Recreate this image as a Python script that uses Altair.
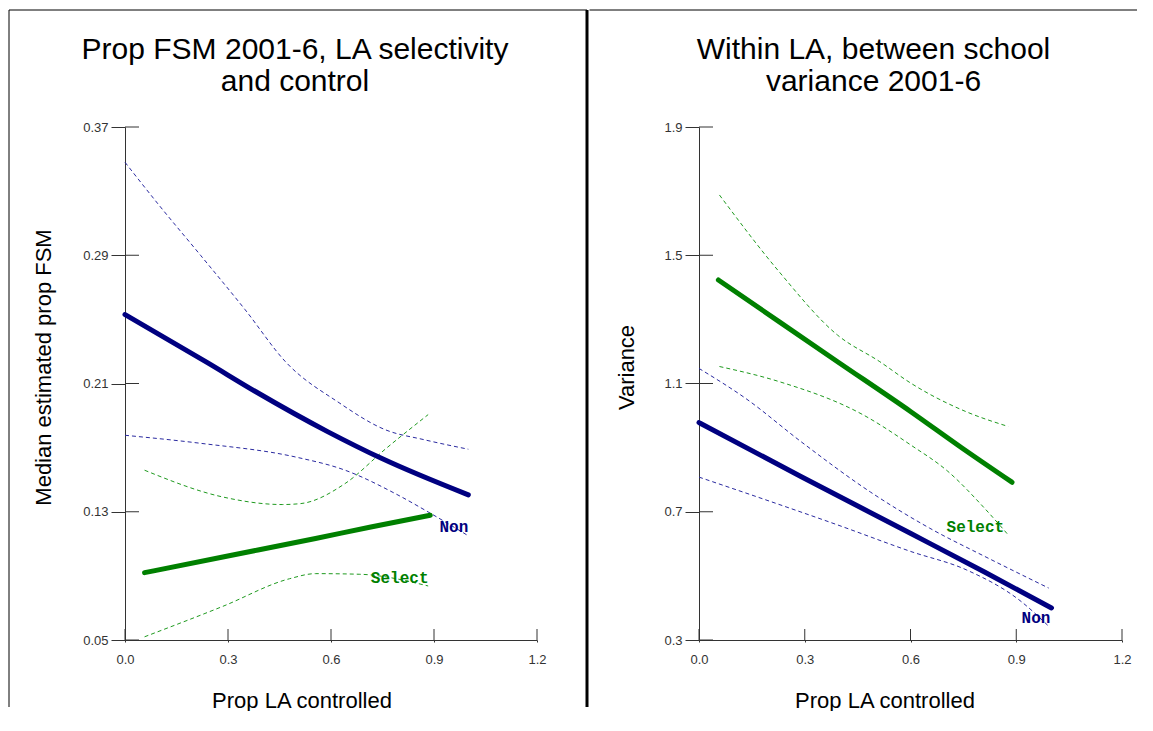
import altair as alt
import pandas as pd

# ---------------- text ----------------
LEFT_TITLE = ["Prop FSM 2001-6, LA selectivity", "and control"]
RIGHT_TITLE = ["Within LA, between school", "variance 2001-6"]
X_TITLE = "Prop LA controlled"
LEFT_Y_TITLE = "Median estimated prop FSM"
RIGHT_Y_TITLE = "Variance"
GROUPS = ["Non", "Select"]

X_TICKS = [0.0, 0.3, 0.6, 0.9, 1.2]
LEFT_Y_TICKS = [0.05, 0.13, 0.21, 0.29, 0.37]
RIGHT_Y_TICKS = [0.3, 0.7, 1.1, 1.5, 1.9]

# ---------------- left panel: median estimated prop FSM ----------------
FSM_NON_MEAN_X = [0.0, 0.24, 0.38, 0.59, 0.75, 1.0]
FSM_NON_MEAN_Y = [0.253, 0.223, 0.205, 0.180, 0.163, 0.1405]
FSM_NON_UP_X = [0.0, 0.10, 0.22, 0.35, 0.47, 0.62, 0.76, 0.87, 1.0]
FSM_NON_UP_Y = [0.348, 0.321, 0.290, 0.256, 0.223, 0.1985, 0.181, 0.175, 0.169]
FSM_NON_LO_X = [0.0, 0.22, 0.50, 0.64, 0.79, 0.89, 1.0]
FSM_NON_LO_Y = [0.1777, 0.1727, 0.164, 0.156, 0.141, 0.129, 0.115]
FSM_SEL_MEAN_X = [0.057, 0.285, 0.555, 0.716, 0.889]
FSM_SEL_MEAN_Y = [0.092, 0.1018, 0.1133, 0.1205, 0.1278]
FSM_SEL_UP_X = [0.057, 0.285, 0.458, 0.512, 0.641, 0.760, 0.883]
FSM_SEL_UP_Y = [0.1559, 0.1392, 0.1345, 0.1351, 0.1476, 0.1694, 0.1906]
FSM_SEL_LO_X = [0.057, 0.285, 0.479, 0.555, 0.684, 0.883]
FSM_SEL_LO_Y = [0.052, 0.071, 0.0882, 0.0914, 0.091, 0.0837]
FSM_LABEL_X = [0.958, 0.80]
FSM_LABEL_Y = [0.1205, 0.0887]

# ---------------- right panel: variance ----------------
VAR_NON_MEAN_X = [0.0, 0.289, 0.601, 0.81, 1.0]
VAR_NON_MEAN_Y = [0.978, 0.81, 0.632, 0.512, 0.40]
VAR_NON_UP_X = [0.0, 0.133, 0.289, 0.487, 0.654, 0.81, 0.992]
VAR_NON_UP_Y = [1.147, 1.053, 0.919, 0.761, 0.649, 0.561, 0.462]
VAR_NON_LO_X = [0.0, 0.216, 0.393, 0.601, 0.758, 0.914, 0.992]
VAR_NON_LO_Y = [0.808, 0.727, 0.659, 0.576, 0.519, 0.42, 0.343]
VAR_SEL_MEAN_X = [0.055, 0.227, 0.393, 0.601, 0.747, 0.888]
VAR_SEL_MEAN_Y = [1.423, 1.293, 1.168, 1.012, 0.898, 0.792]
VAR_SEL_UP_X = [0.058, 0.227, 0.393, 0.513, 0.601, 0.758, 0.877]
VAR_SEL_UP_Y = [1.688, 1.449, 1.251, 1.168, 1.101, 1.012, 0.966]
VAR_SEL_LO_X = [0.058, 0.227, 0.466, 0.601, 0.706, 0.81, 0.877]
VAR_SEL_LO_Y = [1.153, 1.106, 1.002, 0.908, 0.826, 0.711, 0.628]
VAR_LABEL_X = [0.956, 0.784]
VAR_LABEL_Y = [0.3685, 0.651]

# ---------------- styling ----------------
NAVY = "#000080"
GREEN = "#008000"
NAVY_CI = "#2a2aa0"
GREEN_CI = "#1f9a1f"
AXIS_COL = "#333333"
FONT = "Liberation Sans"
MONO = "Liberation Mono"


def lines_frame(spec):
    rows = []
    for (group, kind, name), (xs, ys) in spec.items():
        for i, (xv, yv) in enumerate(zip(xs, ys)):
            rows.append({"x": xv, "y": yv, "group": group, "kind": kind,
                         "series": name, "i": i})
    return pd.DataFrame(rows)


fsm_df = lines_frame({
    ("Non", "mean", "non_mean"): (FSM_NON_MEAN_X, FSM_NON_MEAN_Y),
    ("Non", "ci", "non_up"): (FSM_NON_UP_X, FSM_NON_UP_Y),
    ("Non", "ci", "non_lo"): (FSM_NON_LO_X, FSM_NON_LO_Y),
    ("Select", "mean", "sel_mean"): (FSM_SEL_MEAN_X, FSM_SEL_MEAN_Y),
    ("Select", "ci", "sel_up"): (FSM_SEL_UP_X, FSM_SEL_UP_Y),
    ("Select", "ci", "sel_lo"): (FSM_SEL_LO_X, FSM_SEL_LO_Y),
})
var_df = lines_frame({
    ("Non", "mean", "non_mean"): (VAR_NON_MEAN_X, VAR_NON_MEAN_Y),
    ("Non", "ci", "non_up"): (VAR_NON_UP_X, VAR_NON_UP_Y),
    ("Non", "ci", "non_lo"): (VAR_NON_LO_X, VAR_NON_LO_Y),
    ("Select", "mean", "sel_mean"): (VAR_SEL_MEAN_X, VAR_SEL_MEAN_Y),
    ("Select", "ci", "sel_up"): (VAR_SEL_UP_X, VAR_SEL_UP_Y),
    ("Select", "ci", "sel_lo"): (VAR_SEL_LO_X, VAR_SEL_LO_Y),
})
fsm_labels = pd.DataFrame({"x": FSM_LABEL_X, "y": FSM_LABEL_Y, "group": GROUPS})
var_labels = pd.DataFrame({"x": VAR_LABEL_X, "y": VAR_LABEL_Y, "group": GROUPS})

ONE = pd.DataFrame({"k": [0]})


def panel(df, labels, y_ticks, y_fmt, y_title, title_lines, w, h,
          y_title_x, x_title_x, title_x, frames):
    xscale = alt.Scale(domain=[X_TICKS[0], X_TICKS[-1]], nice=False, zero=False)
    yscale = alt.Scale(domain=[y_ticks[0], y_ticks[-1]], nice=False, zero=False)
    x_axis = alt.Axis(values=X_TICKS, format=".1f", title=X_TITLE, tickSize=2,
                      labelPadding=11, labelFlush=False, titleX=x_title_x, titleY=67,
                      titleBaseline="alphabetic", titleAlign="center")
    y_axis = alt.Axis(values=y_ticks, format=y_fmt, title=y_title, tickSize=14,
                      labelPadding=3, labelFlush=False, titleX=y_title_x, titleY=240,
                      titleBaseline="alphabetic", titleAlign="center",
                      titleAngle=270)

    def X(f="x"):
        return alt.X(f"{f}:Q", scale=xscale, axis=x_axis, title=X_TITLE)

    def Y(f="y"):
        return alt.Y(f"{f}:Q", scale=yscale, axis=y_axis, title=y_title)

    layers = []
    # panel frame lines (pixel positions relative to the plot area)
    for (x1, x2, y1, y2, sw) in frames:
        enc = {"x": alt.value(x1), "y": alt.value(y1)}
        if x2 is not None:
            enc["x2"] = alt.value(x2)
        if y2 is not None:
            enc["y2"] = alt.value(y2)
        layers.append(alt.Chart(ONE).mark_rule(color="#000000", strokeWidth=sw)
                      .encode(**enc))

    base = alt.Chart(df)
    for g, c_ci in zip(GROUPS, [NAVY_CI, GREEN_CI]):
        layers.append(
            base.transform_filter((alt.datum.group == g) & (alt.datum.kind == "ci"))
            .mark_line(color=c_ci, strokeWidth=1, strokeDash=[4, 3],
                       interpolate="monotone")
            .encode(x=X(), y=Y(), detail="series:N", order="i:Q"))
    for g, c in zip(GROUPS, [NAVY, GREEN]):
        layers.append(
            base.transform_filter((alt.datum.group == g) & (alt.datum.kind == "mean"))
            .mark_line(color=c, strokeWidth=5, strokeCap="round", strokeJoin="round",
                       interpolate="monotone")
            .encode(x=X(), y=Y(), order="i:Q"))

    # inward halves of the crossing ticks
    ytk = pd.DataFrame({"yv": y_ticks})
    xtk = pd.DataFrame({"xv": X_TICKS})
    layers.append(alt.Chart(ytk).mark_rule(color=AXIS_COL, strokeWidth=1).encode(
        y=Y("yv"), x=alt.value(0), x2=alt.value(14)))
    layers.append(alt.Chart(xtk).mark_rule(color=AXIS_COL, strokeWidth=1).encode(
        x=X("xv"), y=alt.value(h), y2=alt.value(h - 11)))

    layers.append(
        alt.Chart(labels).mark_text(font=MONO, fontWeight="bold", fontSize=16,
                                    align="center", baseline="middle")
        .encode(x=X(), y=Y(),
                text="group:N",
                color=alt.Color("group:N", scale=alt.Scale(domain=GROUPS, range=[NAVY, GREEN]),
                                legend=None)))

    tdf = pd.DataFrame({"t": ["\n".join(title_lines)]})
    layers.append(
        alt.Chart(tdf).mark_text(font=FONT, fontSize=30, lineHeight=32, lineBreak="\n",
                                 align="center", baseline="alphabetic", color="#000000")
        .encode(x=alt.value(title_x), y=alt.value(-68), text="t:N"))

    return alt.layer(*layers).properties(width=w, height=h)


H = 513
left = panel(fsm_df, fsm_labels, LEFT_Y_TICKS, ".2f", LEFT_Y_TITLE, LEFT_TITLE,
             412, H, y_title_x=-75, x_title_x=176.5, title_x=170,
             frames=[(-116, 462, -117, None, 1),
                     (-116, None, -117, 580, 1),
                     (462, None, -117, 580, 3)])
right = panel(var_df, var_labels, RIGHT_Y_TICKS, ".1f", RIGHT_Y_TITLE, RIGHT_TITLE,
              423, H, y_title_x=-66, x_title_x=185.5, title_x=174.5,
              frames=[(-109.5, 438, -117, None, 1)])

chart = (
    alt.hconcat(left, right, spacing=0)
    .properties(padding=0, background="#ffffff")
    .configure_view(stroke=None)
    .configure_axis(grid=False, domainColor=AXIS_COL, tickColor=AXIS_COL,
                    domainWidth=1, tickWidth=1, labelFont=FONT, labelFontSize=13,
                    labelColor=AXIS_COL, titleFont=FONT, titleFontSize=22,
                    titleFontWeight="normal", titleColor="#000000")
)

chart.save("out.html", embed_options={"renderer": "svg", "actions": False})
